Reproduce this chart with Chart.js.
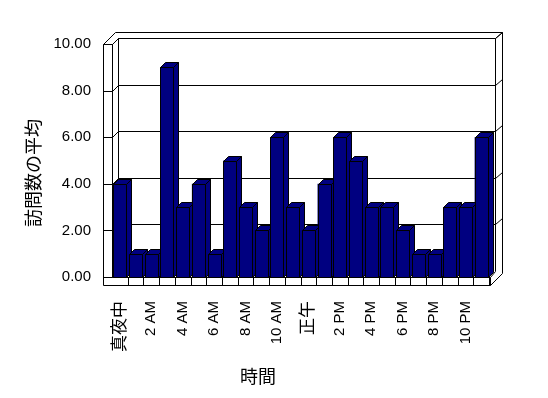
<!DOCTYPE html>
<html>
<head>
<meta charset="utf-8">
<script src="https://cdn.jsdelivr.net/npm/chart.js@4.4.0/dist/chart.umd.min.js"></script>
<style>html,body{margin:0;padding:0;background:#fff}</style>
</head>
<body>
<canvas id="c" width="548" height="398"></canvas>
<script>
const hours = ['真夜中','1 AM','2 AM','3 AM','4 AM','5 AM','6 AM','7 AM','8 AM','9 AM','10 AM','11 AM',
  '正午','1 PM','2 PM','3 PM','4 PM','5 PM','6 PM','7 PM','8 PM','9 PM','10 PM','11 PM'];
const visits = [4,1,1,9,3,4,1,5,3,2,6,3,2,4,6,5,3,3,2,1,1,3,3,6];
const yTicks = [0,2,4,6,8,10];
const yTitle = '訪問数の平均';
const xTitle = '時間';

const navy = '#000080';
const latin = "'Liberation Sans', 'Noto Sans CJK JP', sans-serif";
const cjk = "'Noto Sans CJK JP', sans-serif";

// draws the Excel style 3D walls, floor and back-wall grid
const frame3d = {
  id: 'frame3d',
  beforeDatasetsDraw(chart) {
    const {ctx, chartArea: a, scales: {x, y}} = chart;
    const L = Math.round(a.left), R = Math.round(a.right), T = Math.round(a.top), B = Math.round(a.bottom);
    const D = 6;
    ctx.save();
    ctx.strokeStyle = '#000';
    ctx.lineWidth = 1;
    const line = pts => {
      ctx.beginPath();
      pts.forEach((p, i) => i ? ctx.lineTo(p[0] + .5, p[1] + .5) : ctx.moveTo(p[0] + .5, p[1] + .5));
      ctx.stroke();
    };
    // back wall
    line([[L + D, B - D], [L + D, T - D], [R + D, T - D], [R + D, B - D]]);
    // outer edges of the wall slabs
    line([[L - 9, B + 8], [L - 9, T], [L + 3, T - 2 * D], [R + 13, T - 2 * D], [R + 13, B - 4]]);
    line([[R + D, T - D], [R + 13, T - 2 * D]]);
    // left wall front
    line([[L - 9, T], [L, T], [L + D, T - D]]);
    line([[L, T], [L, B]]);
    // floor
    line([[L, B], [R + 1, B], [R + D, B - D]]);
    line([[L - 9, B + 8], [R + 1, B + 8], [R + 13, B - 4]]);
    line([[R + 1, B], [R + 1, B + 8]]);
    line([[L, B], [L + D, B - D]]);
    // category ticks on the floor edge
    const step = (R - L) / hours.length;
    for (let k = 1; k <= hours.length; k++) {
      const xk = Math.round(L + k * step);
      line([[xk, B], [xk, B + 8]]);
    }
    // value grid
    yTicks.forEach(v => {
      const yf = Math.round(y.getPixelForValue(v));
      line([[L - 9, yf], [L, yf]]);
      if (v > 0) {
        line([[L, yf], [L + D, yf - D], [R + D, yf - D], [R + 13, yf - 2 * D]]);
      }
    });
    ctx.restore();
  },
  afterDatasetsDraw(chart) {
    const {ctx} = chart;
    const d = 5;
    ctx.save();
    ctx.strokeStyle = '#000';
    ctx.lineWidth = 1;
    ctx.fillStyle = navy;
    const poly = pts => {
      ctx.beginPath();
      pts.forEach((p, i) => i ? ctx.lineTo(p[0] + .5, p[1] + .5) : ctx.moveTo(p[0] + .5, p[1] + .5));
      ctx.closePath();
      ctx.fill();
      ctx.stroke();
    };
    chart.getDatasetMeta(0).data.forEach(bar => {
      const p = bar.getProps(['x', 'y', 'base', 'width'], true);
      const l = Math.round(p.x - p.width / 2), r = Math.round(p.x + p.width / 2);
      const t = Math.round(p.y), b = Math.round(p.base);
      poly([[l, t], [r, t], [r, b], [l, b]]);
      poly([[r, t], [r + d, t - d], [r + d, b - d], [r, b]]);
      poly([[l, t], [l + d, t - d], [r + d, t - d], [r, t]]);
    });
    ctx.restore();
  },
  afterDraw(chart) {
    const {ctx} = chart;
    ctx.save();
    ctx.fillStyle = '#000';
    ctx.font = '18px ' + cjk;
    ctx.textAlign = 'center';
    ctx.textBaseline = 'middle';
    ctx.fillText(xTitle, 258, 376);
    ctx.translate(33, 173);
    ctx.rotate(-Math.PI / 2);
    ctx.fillText(yTitle, 0, 0);
    ctx.restore();
  }
};

new Chart(document.getElementById('c'), {
  type: 'bar',
  data: {
    labels: hours,
    datasets: [{
      data: visits,
      backgroundColor: navy,
      borderWidth: 0,
      barPercentage: 0.83,
      categoryPercentage: 1
    }]
  },
  options: {
    responsive: false,
    animation: false,
    layout: {padding: {top: 44, right: 59, left: 0, bottom: 0}},
    plugins: {legend: {display: false}, tooltip: {enabled: false}},
    scales: {
      x: {
        grid: {display: false, drawTicks: false},
        border: {display: false},
        afterFit: s => { s.height = 121; },
        ticks: {
          autoSkip: false,
          minRotation: 90,
          maxRotation: 90,
          padding: 24,
          color: '#000',
          font: c => ({family: latin, size: /[A-Z]/.test(hours[c.index]) ? 15 : 17}),
          callback: (v, i) => i % 2 === 0 ? hours[i] : ''
        }
      },
      y: {
        min: 0,
        max: 10,
        grid: {display: false, drawTicks: false},
        border: {display: false},
        afterFit: s => { s.width = 112; },
        afterBuildTicks: s => { s.ticks = yTicks.map(v => ({value: v})); },
        ticks: {
          padding: 21,
          color: '#000',
          font: {family: latin, size: 15},
          callback: v => v.toFixed(2)
        }
      }
    }
  },
  plugins: [frame3d]
});
</script>
</body>
</html>
